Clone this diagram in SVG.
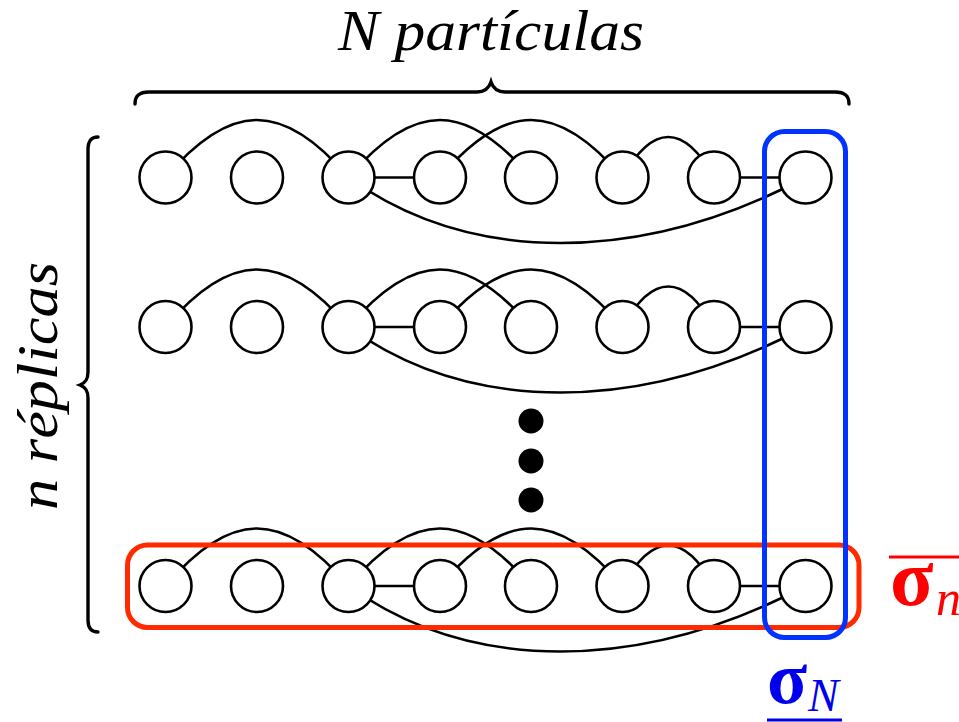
<svg xmlns="http://www.w3.org/2000/svg" width="959" height="722" viewBox="0 0 959 722">
  <style>
    .edge { fill: none; stroke: #000; stroke-width: 2.6; }
    .node { fill: #fff; stroke: #000; stroke-width: 2.6; }
    .brace { fill: none; stroke: #000; stroke-width: 3.4; stroke-linecap: round; }
    .label { font-family: "Liberation Serif", "Times New Roman", serif; font-style: italic; fill: #000; }
    .sym { font-family: "Liberation Serif", "Times New Roman", serif; font-weight: bold; }
    .sub { font-family: "Liberation Serif", "Times New Roman", serif; font-style: italic; }
    .box { fill: none; stroke-width: 5; }
  </style>
  <defs>
    <!-- one replica: edges drawn centre to centre, circles cover the ends -->
    <g id="replica-edges">
      <path class="edge" d="M165.5,0 C230.5,-76.7 283.5,-76.7 348.5,0"/>
      <path class="edge" d="M348.5,0 C413.5,-76.7 466,-76.7 531,0"/>
      <path class="edge" d="M440,0 C505,-76.7 557.5,-76.7 622.5,0"/>
      <path class="edge" d="M622.5,0 C652.5,-54 684,-54 714,0"/>
      <path class="edge" d="M348.5,0 H440"/>
      <path class="edge" d="M714,0 H805.5"/>
      <path class="edge" d="M348.5,0 C470,87.3 640,87.3 805.5,0"/>
    </g>
  </defs>

  <!-- headings -->
  <text class="label" x="491" y="50" font-size="56" text-anchor="middle" textLength="306" lengthAdjust="spacingAndGlyphs">N partículas</text>
  <text class="label" font-size="58" text-anchor="middle" textLength="248" lengthAdjust="spacingAndGlyphs" transform="translate(57,386) rotate(-90)">n réplicas</text>

  <!-- braces -->
  <path class="brace" d="M135,104 C135,96 139,92 149,92 L477,92 C485,92 489,88 491,82 C493,88 497,92 505,92 L835,92 C845,92 849,96 849,104"/>
  <path class="brace" d="M98,137 C91,137 88,141 88,150 L88,372 C88,380 85,383 80,385 C85,387 88,390 88,398 L88,620 C88,628 91,632 98,632"/>

  <!-- connectors -->
  <g id="connectors">
    <use href="#replica-edges" transform="translate(0,177.5)"/>
    <use href="#replica-edges" transform="translate(0,327)"/>
    <use href="#replica-edges" transform="translate(0,586)"/>
  </g>

  <!-- replica 1 -->
  <g id="r1n1"><circle class="node" cx="165.5" cy="177.5" r="26"/></g>
  <g id="r1n2"><circle class="node" cx="257" cy="177.5" r="26"/></g>
  <g id="r1n3"><circle class="node" cx="348.5" cy="177.5" r="26"/></g>
  <g id="r1n4"><circle class="node" cx="440" cy="177.5" r="26"/></g>
  <g id="r1n5"><circle class="node" cx="531" cy="177.5" r="26"/></g>
  <g id="r1n6"><circle class="node" cx="622.5" cy="177.5" r="26"/></g>
  <g id="r1n7"><circle class="node" cx="714" cy="177.5" r="26"/></g>
  <g id="r1n8"><circle class="node" cx="805.5" cy="177.5" r="26"/></g>

  <!-- replica 2 -->
  <g id="r2n1"><circle class="node" cx="165.5" cy="327" r="26"/></g>
  <g id="r2n2"><circle class="node" cx="257" cy="327" r="26"/></g>
  <g id="r2n3"><circle class="node" cx="348.5" cy="327" r="26"/></g>
  <g id="r2n4"><circle class="node" cx="440" cy="327" r="26"/></g>
  <g id="r2n5"><circle class="node" cx="531" cy="327" r="26"/></g>
  <g id="r2n6"><circle class="node" cx="622.5" cy="327" r="26"/></g>
  <g id="r2n7"><circle class="node" cx="714" cy="327" r="26"/></g>
  <g id="r2n8"><circle class="node" cx="805.5" cy="327" r="26"/></g>

  <!-- ellipsis between replicas -->
  <g id="ellipsis">
    <circle cx="531" cy="421" r="12.5" fill="#000"/>
    <circle cx="531" cy="461" r="12.5" fill="#000"/>
    <circle cx="531" cy="500" r="12.5" fill="#000"/>
  </g>

  <!-- replica n -->
  <g id="rnn1"><circle class="node" cx="165.5" cy="586" r="26"/></g>
  <g id="rnn2"><circle class="node" cx="257" cy="586" r="26"/></g>
  <g id="rnn3"><circle class="node" cx="348.5" cy="586" r="26"/></g>
  <g id="rnn4"><circle class="node" cx="440" cy="586" r="26"/></g>
  <g id="rnn5"><circle class="node" cx="531" cy="586" r="26"/></g>
  <g id="rnn6"><circle class="node" cx="622.5" cy="586" r="26"/></g>
  <g id="rnn7"><circle class="node" cx="714" cy="586" r="26"/></g>
  <g id="rnn8"><circle class="node" cx="805.5" cy="586" r="26"/></g>

  <!-- selections -->
  <g id="replica-box">
    <rect class="box" x="127.5" y="545" width="731.5" height="82.5" rx="20" stroke="#ff2a00"/>
    <text fill="#ff0000"><tspan class="sym" font-size="80" x="890" y="605">σ</tspan><tspan class="sub" font-size="50" x="936" y="615">n</tspan></text>
    <line x1="889" y1="557" x2="959" y2="557" stroke="#ff0000" stroke-width="3"/>
  </g>
  <g id="particle-box">
    <rect class="box" x="764.5" y="131.5" width="81" height="506" rx="20" stroke="#0033ff"/>
    <text fill="#0000ee"><tspan class="sym" font-size="74" x="767" y="703">σ</tspan><tspan class="sub" font-size="46" x="808" y="711">N</tspan></text>
    <line x1="767" y1="720" x2="842" y2="720" stroke="#0000ee" stroke-width="3"/>
  </g>
</svg>
